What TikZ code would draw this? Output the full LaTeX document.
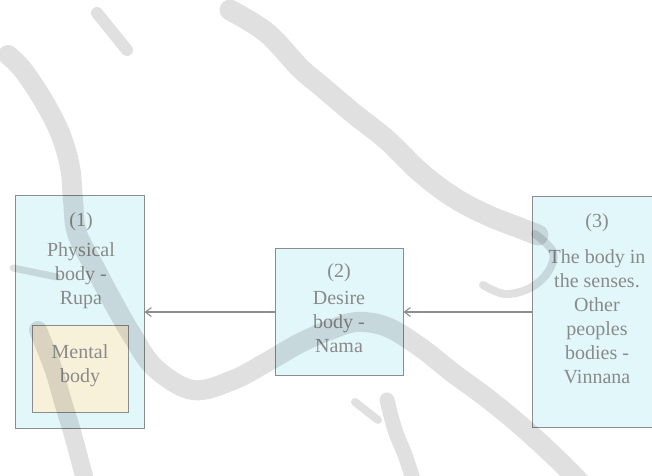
\documentclass[tikz,border=0pt]{standalone}
\usepackage{fontspec}
\setmainfont{Liberation Serif}
\usetikzlibrary{arrows.meta}
\definecolor{boxfill}{HTML}{E2F7FA}
\definecolor{innerfill}{HTML}{F8F1DA}
\definecolor{edge}{HTML}{8C8C8C}
\definecolor{ink}{HTML}{8A8A8A}
\definecolor{wire}{HTML}{8E8E8E}
\begin{document}
\begin{tikzpicture}[x=1pt,y=-1pt,
  box/.style={draw=edge, line width=1pt, fill=boxfill, inner sep=0pt},
  innerbox/.style={draw=edge, line width=1pt, fill=innerfill, inner sep=0pt},
  label/.style={text=ink, align=center, inner sep=0pt,
                font=\fontsize{20}{24}\selectfont},
  conn/.style={draw=wire, line width=1.1pt,
               -{Straight Barb[length=6pt,width=9pt]}},
  brush/.style={draw=black, draw opacity=0.12, line cap=round,
                line join=round}]
  % page
  \clip (0,0) rectangle (652,475);
  \fill[white] (0,0) rectangle (652,475);

  % boxes
  \node[box, minimum width=129pt, minimum height=233pt] (b1) at (79.5,312) {};
  \node[box, minimum width=128pt, minimum height=127pt] (b2) at (339,312) {};
  \node[box, minimum width=130pt, minimum height=231pt] (b3) at (597,312) {};
  \node[innerbox, minimum width=96pt, minimum height=87pt] (mind) at (80,368.5) {};

  % texts
  \node[label] (t1) at (81,261) {\strut(1)\\[6pt]Physical\\body -\\Rupa\strut};
  \node[label] (t2) at (339,310.5) {\strut(2)\\[3pt]Desire\\body -\\Nama\strut};
  \node[label] (t3) at (597,301) {\strut(3)\\[12pt]The body in\\the senses.\\Other\\peoples\\bodies -\\Vinnana\strut};
  \node[label] (t4) at (80,365.5) {\strut Mental\\body\strut};

  % connectors
  \draw[conn] (b3.west) -- (b2.east);
  \draw[conn] (b2.west) -- (b1.east);

  % brush strokes laid over the page
  \draw[brush, line width=12pt] (97,13) -- (127,50);
  \draw[brush, line width=20pt] plot[smooth, tension=0.6] coordinates {
    (8,55) (23,70) (43,100) (60,133) (70,167) (73,200) (77,233) (95,268)
    (113,302) (132,335) (155,368) (193,390) (233,380) (267,362) (300,343)
    (330,330) (357,322) (387,327) (420,347) (453,373) (487,398) (520,425)
    (553,455) (582,484)};
  \draw[brush, line width=7pt] (13,268) -- (57,277);
  \draw[brush, line width=18pt] plot[smooth, tension=0.6] coordinates {
    (38,330) (53,368) (63,402) (73,435) (85,480)};
  \draw[brush, line width=21pt] plot[smooth, tension=0.6] coordinates {
    (230,10) (267,33) (300,68) (320,85) (353,113) (387,140) (420,172)
    (453,197) (487,215) (520,228) (538,235)};
  \draw[brush, line width=8pt] plot[smooth, tension=0.6] coordinates {
    (535,234) (553,252) (548,272) (530,288) (505,294) (483,285)};
  \draw[brush, line width=15pt] plot[smooth, tension=0.6] coordinates {
    (387,400) (395,430) (405,455) (414,482)};
  \draw[brush, line width=8pt] (355,402) -- (378,420);
\end{tikzpicture}
\end{document}
